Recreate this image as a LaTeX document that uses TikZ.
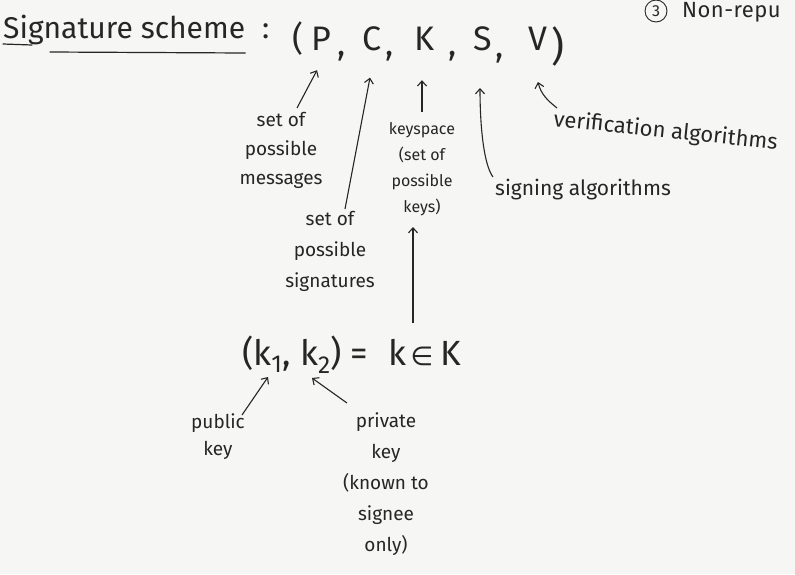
\documentclass[tikz,border=0pt]{standalone}
\usepackage{fontspec}
\setmainfont{Fira Sans}
\newfontfamily\symfont{DejaVu Sans}
\usetikzlibrary{arrows.meta}
\definecolor{ink}{HTML}{262626}
\definecolor{paper}{HTML}{F6F6F4}
\tikzset{
  x=1pt,y=1pt,
  every node/.style={text=ink,inner sep=0pt},
  lbl/.style={font=\fontsize{19}{29}\selectfont,align=center},
  lblsmall/.style={font=\fontsize{16}{26}\selectfont,align=center},
  tup/.style={font=\fontsize{34}{36}\selectfont,anchor=base},
  kpart/.style={font=\fontsize{35}{37}\selectfont,anchor=base},
  arr/.style={draw=ink,line width=1.1pt,-{Straight Barb[length=5pt,width=9pt]}},
  ink line/.style={draw=ink,line width=1.2pt,line cap=round}
}
\begin{document}
\begin{tikzpicture}
\useasboundingbox[fill=paper] (0,0) rectangle (795,-574);

% title
\node[anchor=base west,font=\fontsize{30}{32}\selectfont] (title) at (3,-38) {Signature scheme};
\node[anchor=base west,font=\fontsize{30}{32}\selectfont] (colon) at (262,-38) {:};
\draw[ink line] ([shift={(0,-6)}]title.base west) -- ([shift={(29,-7)}]title.base west);
\draw[ink line] ([shift={(47,-14)}]title.base west) -- ([shift={(0,-15)}]title.base east);

% top right
\node[draw=ink,circle,line width=0.9pt,minimum size=22pt,font=\fontsize{16}{16}\selectfont] (three) at (656,-11) {3};
\node[anchor=base west,font=\fontsize{22}{24}\selectfont\addfontfeature{LetterSpace=2}] (nonrepu) at (682,-17) {Non-repu};

% tuple
\node[tup] (lp) at (298,-50) {(};
\node[tup] (P) at (321,-50) {P};
\node[tup] (c1) at (342,-55) {,};
\node[tup] (C) at (372,-50) {C};
\node[tup] (c2) at (390,-55) {,};
\node[tup] (K) at (425,-50) {K};
\node[tup] (c3) at (453,-55) {,};
\node[tup] (S) at (483,-50) {S};
\node[tup] (c4) at (500,-57) {,};
\node[tup] (V) at (538,-50) {V};
\node[tup,font=\fontsize{40}{42}\selectfont] (rp) at (558,-60) {)};

% labels
\node[lbl,anchor=north] (msgs) at (281,-112) {set of\\possible\\messages};
\node[lbl,anchor=north,font=\fontsize{19}{31}\selectfont] (sigs) at (330,-211) {set of\\possible\\signatures};
\node[lblsmall,anchor=north] (ks) at (422,-122) {keyspace\\(set of\\possible\\keys)};
\node[lbl,anchor=base west,font=\fontsize{21}{25}\selectfont] (sign) at (495,-195) {signing algorithms};
\node[lbl,anchor=base west,rotate=-6,font=\fontsize{22}{26}\selectfont] (verif) at (553,-126) {verification algorithms};

% key expression
\node[kpart,anchor=base west] (kpair) at (242,-365) {(k\textsubscript{1}, k\textsubscript{2})};
\node[kpart] (eq) at (359,-365) {=};
\node[kpart] (ksmall) at (397,-365) {k};
\node[kpart,font=\fontsize{26}{28}\selectfont\symfont] (elem) at (422,-365) {∈};
\node[kpart] (Kbig) at (451,-365) {K};
\node[lbl,anchor=north,font=\fontsize{19}{27}\selectfont] (pub) at (218,-413) {public\\key};
\node[lbl,anchor=north,font=\fontsize{19}{31}\selectfont] (priv) at (386,-412) {private\\key\\(known to\\signee\\only)};

% arrows to the tuple
\draw[arr] ([shift={(16,4)}]msgs.north) -- ([shift={(-4,-20)}]P.south);
\draw[arr] ([shift={(15,2)}]sigs.north) -- ([shift={(-2,-27)}]C.south);
\draw[arr] ([shift={(0,10)}]ks.north) -- ([shift={(-3,-30)}]K.south);
\draw[arr] ([shift={(-2,18)}]sign.base west) .. controls +(-9,12) and +(0,-40) .. ([shift={(-3,-38)}]S.base);
\draw[arr] ([shift={(4,18)}]verif.base west) .. controls +(-10,8) and +(3,-12) .. ([shift={(0,-32)}]V.base);

% arrows around the key expression
\draw[arr] ([shift={(-9,42)}]elem.base) -- ([shift={(-9,-105)}]ks.north);
\draw[arr] ([shift={(24,-2)}]pub.north) -- ([shift={(26,-12)}]kpair.base west);
\draw[arr] ([shift={(-39,9)}]priv.north) -- ([shift={(70,-13)}]kpair.base west);
\end{tikzpicture}
\end{document}
